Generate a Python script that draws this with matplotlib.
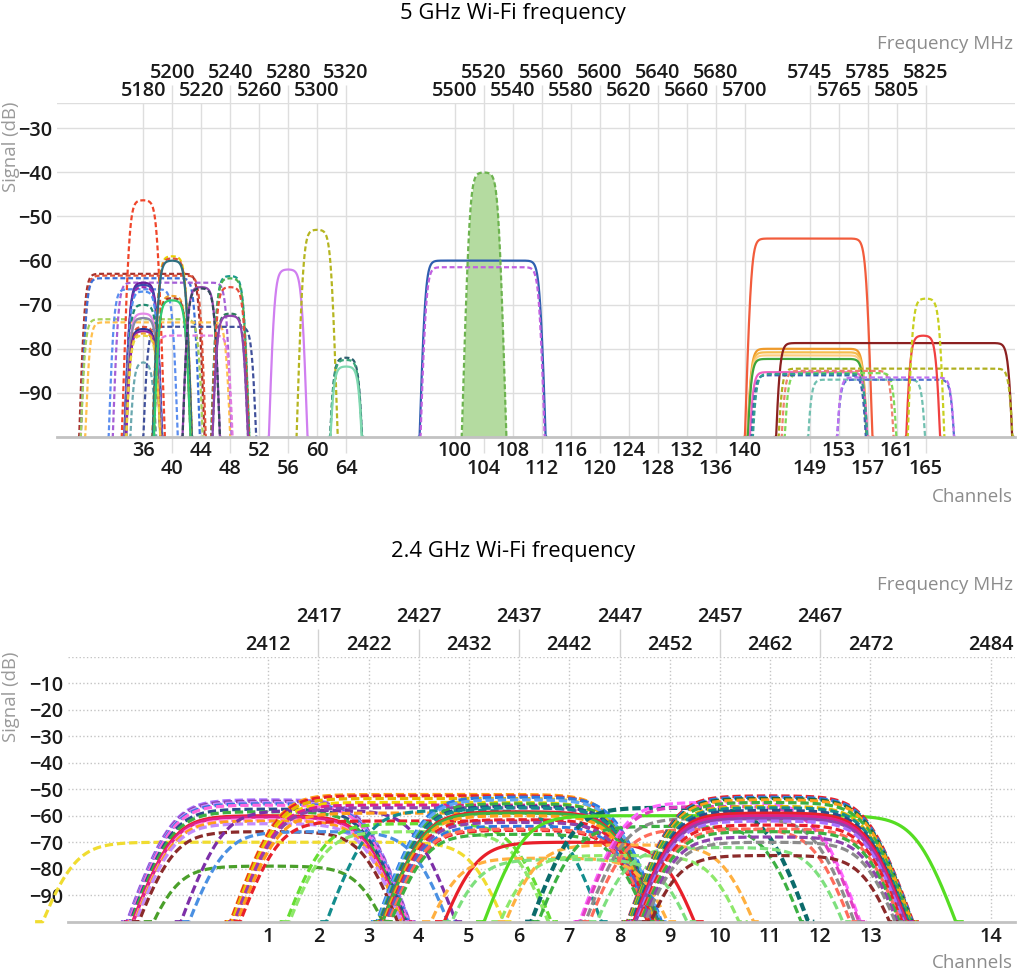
import numpy as np
import matplotlib.pyplot as plt

plt.rcParams['font.family'] = ['Open Sans', 'DejaVu Sans']
plt.rcParams['lines.scale_dashes'] = False
plt.rcParams['lines.dash_capstyle'] = 'butt'

# ---------------------------------------------------------------- 5 GHz data
# bottom axis: channels in two staggered rows, top axis: centre frequency
CH5_ROW1 = [36, 44, 52, 60, 100, 108, 116, 124, 132, 140, 153, 161]
CH5_ROW2 = [40, 48, 56, 64, 104, 112, 120, 128, 136, 149, 157, 165]
MHZ5_ROW1 = [5180, 5220, 5260, 5300, 5500, 5540, 5580, 5620, 5660, 5700, 5765, 5805]
MHZ5_ROW2 = [5200, 5240, 5280, 5320, 5520, 5560, 5600, 5640, 5680, 5745, 5785, 5825]
SIG5_TICKS = [-90, -80, -70, -60, -50, -40, -30]

# one entry per network: centre (MHz), half width of the flat top (MHz),
# signal level (dB), dashed or solid
W5_CENTER = [
    5179, 5180, 5178, 5179, 5190, 5200, 5180, 5219, 5214, 5180,
    5180, 5180, 5180, 5180, 5180, 5180, 5180, 5180, 5180, 5180, 5180, 5180, 5180,
    5200, 5200, 5200, 5200, 5200, 5200,
    5220, 5220,
    5240, 5240, 5240, 5240, 5240,
    5280, 5300, 5320, 5320, 5320,
    5519, 5519, 5520,
    5744, 5743, 5743, 5743, 5743, 5803, 5804, 5744, 5764, 5766, 5744, 5745,
    5784, 5804, 5804, 5823, 5825,
]
W5_HALF = [
    40, 40, 38, 40, 48, 38, 21, 37, 26, 8,
    10, 10, 10, 10, 10, 10, 10, 10, 10, 10, 10, 10, 10,
    10, 10, 10, 10, 10, 10,
    10, 10,
    10, 10, 10, 10, 10,
    10, 10, 10, 10, 10,
    40, 39.5, 10,
    40, 40, 40, 40, 40, 80, 80, 40, 38, 38, 39, 39,
    40, 40, 40, 10, 10,
]
W5_LEVEL = [
    -63.0, -63.4, -64.0, -73.3, -74.0, -65.0, -66.5, -75.0, -77.0, -83.0,
    -46.3, -65.0, -65.5, -66.0, -67.0, -70.0, -72.0, -73.0, -75.0, -75.5, -76.0, -76.5, -77.0,
    -59.0, -59.5, -60.0, -68.0, -68.5, -69.0,
    -66.0, -66.3,
    -63.5, -64.0, -66.0, -72.0, -72.5,
    -62.0, -53.0, -82.0, -82.5, -84.0,
    -60.0, -61.5, -40.0,
    -55.0, -80.0, -80.8, -81.5, -82.3, -78.7, -84.5, -85.3, -85.0, -85.5, -86.0, -85.7,
    -87.0, -87.0, -86.5, -77.0, -68.6,
]
W5_DASHED = [
    1, 1, 1, 1, 1, 1, 1, 1, 1, 1,
    1, 0, 0, 1, 1, 1, 0, 0, 1, 0, 0, 1, 1,
    1, 1, 0, 1, 1, 0,
    0, 1,
    1, 1, 1, 1, 0,
    0, 1, 1, 1, 0,
    0, 1, 1,
    0, 0, 0, 0, 0, 0, 1, 0, 1, 1, 1, 1,
    1, 1, 1, 0, 1,
]
W5_COLOR = [
    '#a8322d', '#e0533a', '#3b6fd8', '#a6d15a', '#ffc04d', '#a55fd6', '#5b8def', '#3f4f9a', '#e27ae0', '#6aa8b0',
    '#f0452a', '#6a1b9a', '#3949ab', '#9c27b0', '#4f8ff0', '#1f8a70', '#e58ae8', '#8888aa', '#e0533a',
    '#283593', '#8e24aa', '#f0a030', '#e8d440',
    '#e8d000', '#e0533a', '#2f6f7f', '#f0a030', '#a8322d', '#2ecc71',
    '#8e44ad', '#34495e',
    '#1a9c8a', '#4caf50', '#e74c3c', '#2e7d5b', '#8e44ad',
    '#d07ff0', '#b5b520', '#2c5e6e', '#3aa57a', '#7fd8b0',
    '#2f5fb0', '#c060e0', '#6db34f',
    '#f25c3c', '#ef9a2a', '#f5bd4f', '#ffcd80', '#3da53a', '#8b2020', '#b0b020', '#f060c0',
    '#f07f70', '#7ed957', '#4060b0', '#30a090',
    '#70c0b0', '#5070d0', '#c070f0', '#f04040', '#c8d020',
]

# -------------------------------------------------------------- 2.4 GHz data
CH24 = list(range(1, 15))
MHZ24 = [2412, 2417, 2422, 2427, 2432, 2437, 2442, 2447, 2452, 2457, 2462, 2467, 2472, 2484]
MHZ24_LOW = [2412, 2422, 2432, 2442, 2452, 2462, 2472, 2484]
MHZ24_HIGH = [2417, 2427, 2437, 2447, 2457, 2467]
SIG24_TICKS = [-90, -80, -70, -60, -50, -40, -30, -20, -10]

W24_CENTER = [
    2412.5,
    2412, 2412, 2412, 2412, 2412, 2412, 2412, 2412, 2412, 2412, 2412, 2412, 2412, 2412,
    2417, 2417,
    2429.5, 2429.5, 2429.5, 2429.5, 2429.5, 2429.5, 2429.5, 2429.5,
    2427, 2427, 2431.5,
    2437, 2437, 2437, 2437, 2437, 2437, 2437, 2437, 2437, 2437, 2437, 2437, 2437, 2437,
    2442, 2440, 2442, 2447, 2448,
    2452, 2452,
    2457, 2457, 2457, 2457, 2457, 2457,
    2462, 2462, 2462, 2462, 2462, 2462, 2462, 2462, 2462, 2462, 2462, 2462, 2462, 2462,
    2462, 2462, 2462, 2462,
]
W24_HALF = [
    20.5,
    10, 10, 10, 10, 10, 10, 10, 10, 10, 10, 10, 10, 10, 10,
    10, 10,
    17, 17, 17, 17, 17, 17, 17, 17,
    10, 10, 10,
    10, 10, 10, 10, 10, 10, 10, 10, 10, 10, 10, 10, 10, 10,
    10, 10, 10, 10, 10,
    10, 10,
    20, 10, 10, 10, 10, 10,
    10, 10, 10, 10, 10, 10, 10, 10, 10, 10, 10, 10, 10, 10,
    10, 10, 10, 10,
]
W24_LEVEL = [
    -70.0,
    -54.0, -54.5, -55.0, -55.5, -56.0, -57.5, -58.5, -60.0, -60.5, -61.5, -62.0, -63.0, -66.0, -79.0,
    -58.0, -66.0,
    -52.0, -52.5, -53.5, -55.0, -56.0, -57.0, -59.0, -62.0,
    -63.0, -66.0, -58.0,
    -53.0, -54.0, -55.5, -56.5, -57.0, -58.5, -59.0, -60.0, -61.5, -62.5, -64.0, -65.5, -65.0, -67.0,
    -70.0, -76.0, -76.5, -75.0, -71.0,
    -57.0, -64.0,
    -60.0, -55.0, -56.5, -61.0, -65.0, -72.0,
    -52.5, -53.0, -53.5, -54.0, -55.0, -56.5, -57.0, -58.0, -59.0, -60.0, -61.0, -62.0, -63.5, -65.0,
    -66.0, -68.0, -70.0, -75.0,
]
W24_DASHED = [
    1,
    1, 1, 1, 1, 1, 1, 1, 0, 0, 1, 1, 1, 1, 1,
    1, 1,
    1, 1, 1, 1, 1, 1, 1, 1,
    1, 1, 1,
    1, 1, 1, 1, 1, 0, 0, 1, 1, 1, 1, 1, 1, 1,
    0, 1, 1, 1, 1,
    1, 1,
    0, 1, 1, 1, 1, 1,
    1, 1, 1, 1, 1, 1, 1, 1, 0, 0, 0, 1, 1, 1,
    1, 1, 1, 1,
]
W24_COLOR = [
    '#f0dc30',
    '#a970ff', '#8e44ad', '#c38cff', '#2d7be0', '#ff66dd', '#2b4c8c', '#3cb043', '#e8202a',
    '#e0208a', '#ff88ee', '#ff9f1a', '#c38cff', '#8b2a2a', '#4a9f2a',
    '#7d2fa8', '#4a90e2',
    '#ff9f1a', '#e8202a', '#e6b800', '#f2d600', '#e0208a', '#8e44ad', '#ff9f1a', '#e8202a',
    '#66dd33', '#8ee86a', '#138d8d',
    '#2d7be0', '#5fa8f5', '#3cb043', '#2b4c8c', '#138d8d', '#e8202a', '#3cb043', '#ff9f1a',
    '#e8202a', '#8e44ad', '#2d7be0', '#e8202a', '#ff6b5b', '#3cb043',
    '#e8202a', '#ffb040', '#7ee07e', '#8ee86a', '#ffb040',
    '#0b6b6b', '#3cb043',
    '#55dd22', '#ff66ff', '#e040c0', '#8c8c8c', '#ff6b5b', '#7ee07e',
    '#e8202a', '#2d7be0', '#1e6b3a', '#ff9f1a', '#3cb043', '#e6b800', '#138d8d', '#2b4c8c',
    '#e8202a', '#e0208a', '#8e44ad', '#a970ff', '#e8202a', '#ff6b5b',
    '#3cb043', '#8e44ad', '#8c8c8c', '#8b2a2a',
]

# ------------------------------------------------------------------ helpers
FLOOR = -100.0
SKIRT = 11.0      # dB per MHz on the sides of a channel mask
SOFT = 1.5        # MHz of rounding on the shoulders


def spectrum(center, half, level, n=500):
    reach = half + (level - FLOOR) / SKIRT + 0.5
    f = np.linspace(center - reach, center + reach, n)
    z = (np.abs(f - center) - half) / SOFT
    y = level - SKIRT * SOFT * np.logaddexp(0.0, z)
    return f, np.maximum(y, FLOOR)


# the unused 5340-5470 MHz stretch is squeezed on the 5 GHz axis
GAP_F = [4000, 5340, 5470, 7000]
GAP_X = [4000, 5340, 5365.2, 6895.2]


def squeeze(f):
    return np.interp(f, GAP_F, GAP_X)


def unsqueeze(x):
    return np.interp(x, GAP_X, GAP_F)


W, H = 1017, 974
GREY = '#8c8c8c'
TSIZE = 14.3

fig = plt.figure(figsize=(W / 100, H / 100), dpi=100)


def px_axes(left, top, right, bottom):
    return fig.add_axes([left / W, 1 - bottom / H, (right - left) / W, (bottom - top) / H])


def base_style(ax, grid_color, grid_ls, ytop):
    for s in ('left', 'right', 'top'):
        ax.spines[s].set_visible(False)
    ax.spines['bottom'].set_color('#c2c2c2')
    ax.spines['bottom'].set_linewidth(2)
    ax.set_axisbelow(True)
    ax.grid(True, which='both', axis='x', color=grid_color, lw=1, ls=grid_ls)
    ax.grid(True, which='major', axis='y', color=grid_color, lw=1, ls=grid_ls)
    ax.axhline(ytop, color=grid_color, lw=1, ls=grid_ls, zorder=0.5)
    ax.tick_params(axis='y', length=0, labelsize=TSIZE, labelcolor='#1a1a1a')
    for lab in ax.get_yticklabels():
        lab.set_fontweight('semibold')


def bold_labels(ax):
    for lab in ax.get_xticklabels(which='both'):
        lab.set_fontweight('semibold')
        lab.set_color('#1a1a1a')


# ------------------------------------------------------------------ 5 GHz
ax5 = px_axes(57, 102.7, 1015, 437)
ax5.set_xscale('function', functions=(squeeze, unsqueeze))
ax5.set_xlim(5120.5, 5886.4)
ax5.set_ylim(FLOOR, -24.2)

for i in range(len(W5_CENTER)):
    f, y = spectrum(W5_CENTER[i], W5_HALF[i], W5_LEVEL[i])
    ls = (0, (3.6, 2.0)) if W5_DASHED[i] else '-'
    if W5_LEVEL[i] == max(W5_LEVEL):
        ax5.fill_between(f, y, FLOOR, color='#b4dba0', lw=0, zorder=1.5)
    ax5.plot(f, y, color=W5_COLOR[i], lw=1.6, ls=ls, zorder=2)

ax5.set_yticks(SIG5_TICKS)
ax5.set_xticks(MHZ5_ROW1, labels=[str(c) for c in CH5_ROW1])
ax5.set_xticks(MHZ5_ROW2, labels=[str(c) for c in CH5_ROW2], minor=True)
base_style(ax5, '#dedede', '-', -24.2)
ax5.tick_params(axis='x', which='major', length=0, pad=2.7, labelsize=TSIZE)
ax5.tick_params(axis='x', which='minor', length=11.5, width=1, color='#dedede',
                pad=4.3, labelsize=TSIZE)
bold_labels(ax5)

top5 = ax5.twiny()
top5.set_xscale('function', functions=(squeeze, unsqueeze))
top5.set_xlim(ax5.get_xlim())
top5.set_xticks(MHZ5_ROW1, labels=[str(m) for m in MHZ5_ROW1])
top5.set_xticks(MHZ5_ROW2, labels=[str(m) for m in MHZ5_ROW2], minor=True)
top5.tick_params(axis='x', which='major', length=0, pad=1.4, labelsize=TSIZE)
top5.tick_params(axis='x', which='minor', length=13, width=1, color='#dedede',
                 pad=0.9, labelsize=TSIZE)
bold_labels(top5)
for s in top5.spines.values():
    s.set_visible(False)

fig.text(0.504, 1 - 14 / H, '5 GHz Wi-Fi frequency', ha='center', va='center', fontsize=15.8)
fig.text(1013 / W, 1 - 44 / H, 'Frequency MHz', ha='right', va='center', fontsize=13.5, color=GREY)
fig.text(1013 / W, 1 - 497 / H, 'Channels', ha='right', va='center', fontsize=13.5, color=GREY)
fig.text(11 / W, 1 - 102 / H, 'Signal (dB)', ha='center', va='top', rotation=90,
         fontsize=13.3, color='#9a9a9a')

# ------------------------------------------------------------------ 2.4 GHz
ax24 = px_axes(68, 656.7, 1015, 921.7)
ax24.set_xlim(2392.05, 2486.4)
ax24.set_ylim(FLOOR, 0)

for i in range(len(W24_CENTER)):
    f, y = spectrum(W24_CENTER[i], W24_HALF[i], W24_LEVEL[i])
    ls = (0, (6.0, 2.8)) if W24_DASHED[i] else '-'
    lw = 3.0 if W24_COLOR[i] == '#0b6b6b' else 2.3
    ax24.plot(f, y, color=W24_COLOR[i], lw=lw, ls=ls, zorder=2, clip_on=False)

ax24.set_yticks(SIG24_TICKS)
ax24.set_xticks(MHZ24, labels=[str(c) for c in CH24])
base_style(ax24, '#c4c4c4', ':', 0)
ax24.tick_params(axis='x', which='major', length=0, pad=4, labelsize=TSIZE)
bold_labels(ax24)

top24 = ax24.twiny()
top24.set_xlim(ax24.get_xlim())
top24.set_xticks(MHZ24_LOW, labels=[str(m) for m in MHZ24_LOW])
top24.set_xticks(MHZ24_HIGH, labels=[str(m) for m in MHZ24_HIGH], minor=True)
top24.tick_params(axis='x', which='major', length=0, pad=1.4, labelsize=TSIZE)
top24.tick_params(axis='x', which='minor', length=20.5, width=1, color='#d2d2d2',
                  pad=0.7, labelsize=TSIZE)
bold_labels(top24)
for s in top24.spines.values():
    s.set_visible(False)

fig.text(0.504, 1 - 552 / H, '2.4 GHz Wi-Fi frequency', ha='center', va='center', fontsize=15.8)
fig.text(1013 / W, 1 - 585 / H, 'Frequency MHz', ha='right', va='center', fontsize=13.5, color=GREY)
fig.text(1013 / W, 1 - 963 / H, 'Channels', ha='right', va='center', fontsize=13.5, color=GREY)
fig.text(11 / W, 1 - 652 / H, 'Signal (dB)', ha='center', va='top', rotation=90,
         fontsize=13.3, color='#9a9a9a')

fig.savefig('out.png', dpi=100)
